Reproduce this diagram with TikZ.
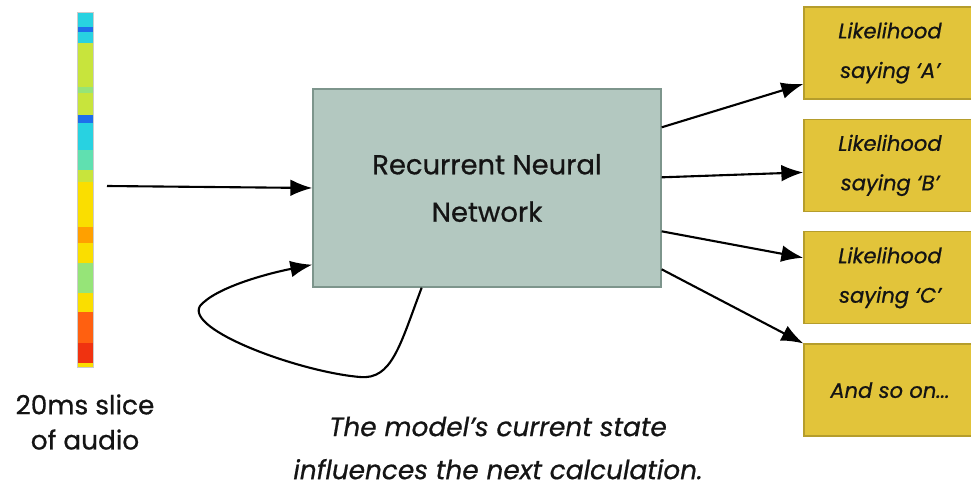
\documentclass[tikz,border=0pt]{standalone}
\usepackage{fontspec}
\setmainfont{Poppins}[FakeBold=0.7]
\usetikzlibrary{arrows.meta,positioning,calc}
\definecolor{rnn-grey}{RGB}{179,200,192}
\definecolor{rnn-edge}{RGB}{125,149,140}
\definecolor{like-gold}{RGB}{226,196,58}
\definecolor{like-edge}{RGB}{181,157,44}
\definecolor{ink}{RGB}{20,20,20}
\definecolor{a-cyan}{RGB}{40,210,225}
\definecolor{a-blue}{RGB}{30,110,235}
\definecolor{a-lime}{RGB}{200,228,60}
\definecolor{a-green}{RGB}{150,228,120}
\definecolor{a-teal}{RGB}{96,224,176}
\definecolor{a-yellow}{RGB}{250,222,0}
\definecolor{a-orange}{RGB}{255,160,0}
\definecolor{a-red1}{RGB}{255,96,16}
\definecolor{a-red2}{RGB}{240,50,16}

\begin{document}
\begin{tikzpicture}[x=0.02cm, y=-0.02cm, line width=1.2pt, text=ink,
    arr/.style={-{Latex[length=12.5pt,width=9.5pt]}},
    rnn/.style={rectangle,draw=rnn-edge,fill=rnn-grey,line width=0.8pt,minimum width=6.96cm,minimum height=3.96cm,align=center,font=\fontsize{15.6}{27}\selectfont},
    likebox/.style={rectangle,draw=like-edge,fill=like-gold,line width=0.8pt,minimum width=3.44cm,minimum height=1.84cm,align=center,font=\fontsize{12}{22.5}\selectfont\itshape},
    note/.style={align=center}]

    \useasboundingbox (0,0) rectangle (971,490);

    % audio slice
    \foreach \ya/\yb/\c in {12/27/a-cyan, 27/32/a-blue, 32/43/a-cyan, 43/87/a-lime, 87/93/a-green,
        93/115/a-lime, 115/123/a-blue, 123/150/a-cyan, 150/170/a-teal, 170/182/a-lime,
        182/227/a-yellow, 227/243/a-orange, 243/263/a-yellow, 263/293/a-green, 293/312/a-yellow,
        312/343/a-red1, 343/363/a-red2, 363/367/a-yellow}
        \fill[\c] (77,\ya) rectangle (93,\yb);
    \node[draw=gray!40, line width=0.4pt, minimum width=0.32cm, minimum height=7.1cm, inner sep=0] (slice) at (85,189.5) {};
    \node[note, font=\fontsize{15}{20}\selectfont] (slicetxt) at (85,422) {20ms slice\\of audio};

    \node[rnn] (rnn) at (487,188) {Recurrent Neural\\Network};

    \node[likebox] (a) at (890,53) {Likelihood\\saying ‘A’};
    \node[likebox] (b) [below=0.38cm of a] {Likelihood\\saying ‘B’};
    \node[likebox] (c) [below=0.38cm of b] {Likelihood\\saying ‘C’};
    \node[likebox] (d) [below=0.38cm of c] {And so on...};

    \node[note, font=\fontsize{15}{24.5}\selectfont\itshape] (caption) at (498,448) {The model's current state\\influences the next calculation.};

    \coordinate (in) at (107,186);
    \draw[arr] (in) -- (rnn.west);

    \draw[arr] ($(rnn.north east)+(0,39)$) -- ($(a.west)+(0,31)$);
    \draw[arr] ($(rnn.north east)+(0,89)$) -- ($(b.west)+(0,7)$);
    \draw[arr] ($(rnn.north east)+(0,143)$) -- ($(c.west)+(0,-20)$);
    \draw[arr] ($(rnn.north east)+(0,181)$) -- (d.north west);

    % feedback loop
    \coordinate (loop) at ($(rnn.south west)!0.313!(rnn.south east)$);
    \draw[arr] (loop) .. controls (400,345) and (392,380) .. (360,377)
        .. controls (300,372) and (185,330) .. (200,306)
        .. controls (215,288) and (265,274) .. ($(rnn.south west)+(0,-23)$);

\end{tikzpicture}
\end{document}
